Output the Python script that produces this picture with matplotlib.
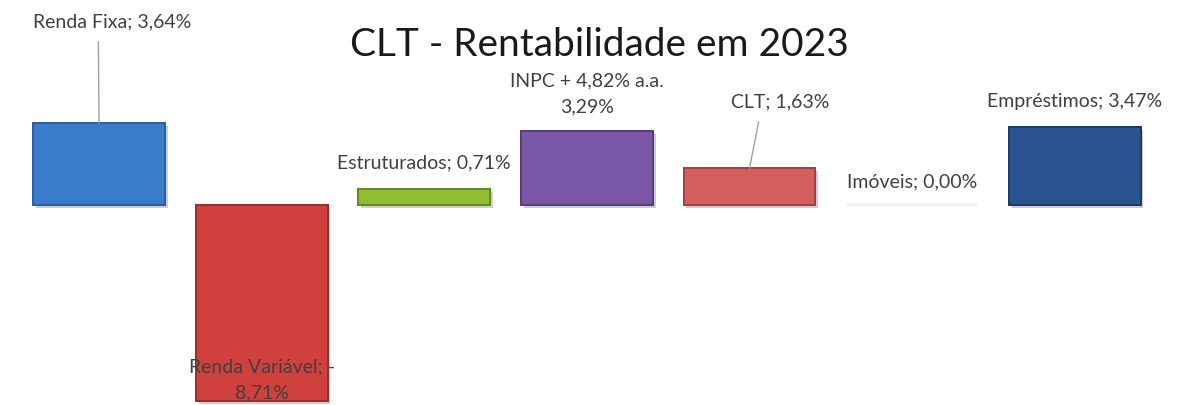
import matplotlib.pyplot as plt
import matplotlib.patheffects as pe

categorias = ["Renda Fixa", "Renda Variável", "Estruturados", "INPC + 4,82% a.a.",
              "CLT", "Imóveis", "Empréstimos"]
rentab = [3.64, -8.71, 0.71, 3.29, 1.63, 0.00, 3.47]
rotulos = ["Renda Fixa; 3,64%", "Renda Variável; -\n8,71%", "Estruturados; 0,71%",
           "INPC + 4,82% a.a.\n3,29%", "CLT; 1,63%", "Imóveis; 0,00%", "Empréstimos; 3,47%"]
cores = ["#3a7ccc", "#d0413e", "#8fbe32", "#7b57a8", "#d4605e", "#f7f7f7", "#2a5490"]
bordas = ["#2a5a96", "#962a28", "#5f8420", "#543a78", "#9a3f3d", "#f4f4f4", "#1b3762"]

# deslocamento dos rotulos em pixels (x, y) e ponto de saida da linha guia
offsets = [(13, 101), (0, 21), (0, 26), (0, 37), (31, 66), (0, 23), (0, 25)]
guias = [0.413, None, None, None, 0.3, None, None]

plt.rcParams['font.family'] = ['Lato', 'DejaVu Sans']

fig = plt.figure(figsize=(11.79, 4.05), dpi=100)
ax = fig.add_axes([0, 0, 1, 1])
x = list(range(len(categorias)))

barras = ax.bar(x, rentab, width=0.81, color=cores, edgecolor=bordas, linewidth=1.2)
for b in barras:
    b.set_path_effects([pe.withSimplePatchShadow(offset=(2, -2), alpha=0.22), pe.Normal()])
# imoveis = 0, so aparece a sombra fraca
barras[5].set_linewidth(3)
barras[5].set_path_effects([])

for i, v in enumerate(rentab):
    if guias[i] is not None:
        seta = dict(arrowstyle='-', color='#a0a0a0', lw=1, relpos=(guias[i], 0), shrinkA=6, shrinkB=0)
    else:
        seta = None
    ax.annotate(rotulos[i], xy=(i, v), xytext=offsets[i], textcoords='offset pixels',
                ha='center', va='center', fontsize=14, color='#404040',
                linespacing=1.6, arrowprops=seta)

ax.text(0.508, 0.89, "CLT - Rentabilidade em 2023", transform=ax.transAxes,
        ha='center', va='center', fontsize=28, color='#1a1a1a')

ax.set_xlim(-0.609, 6.641)
ax.set_ylim(-8.89, 9.11)
ax.axis('off')

fig.savefig("out.png", dpi=100)
